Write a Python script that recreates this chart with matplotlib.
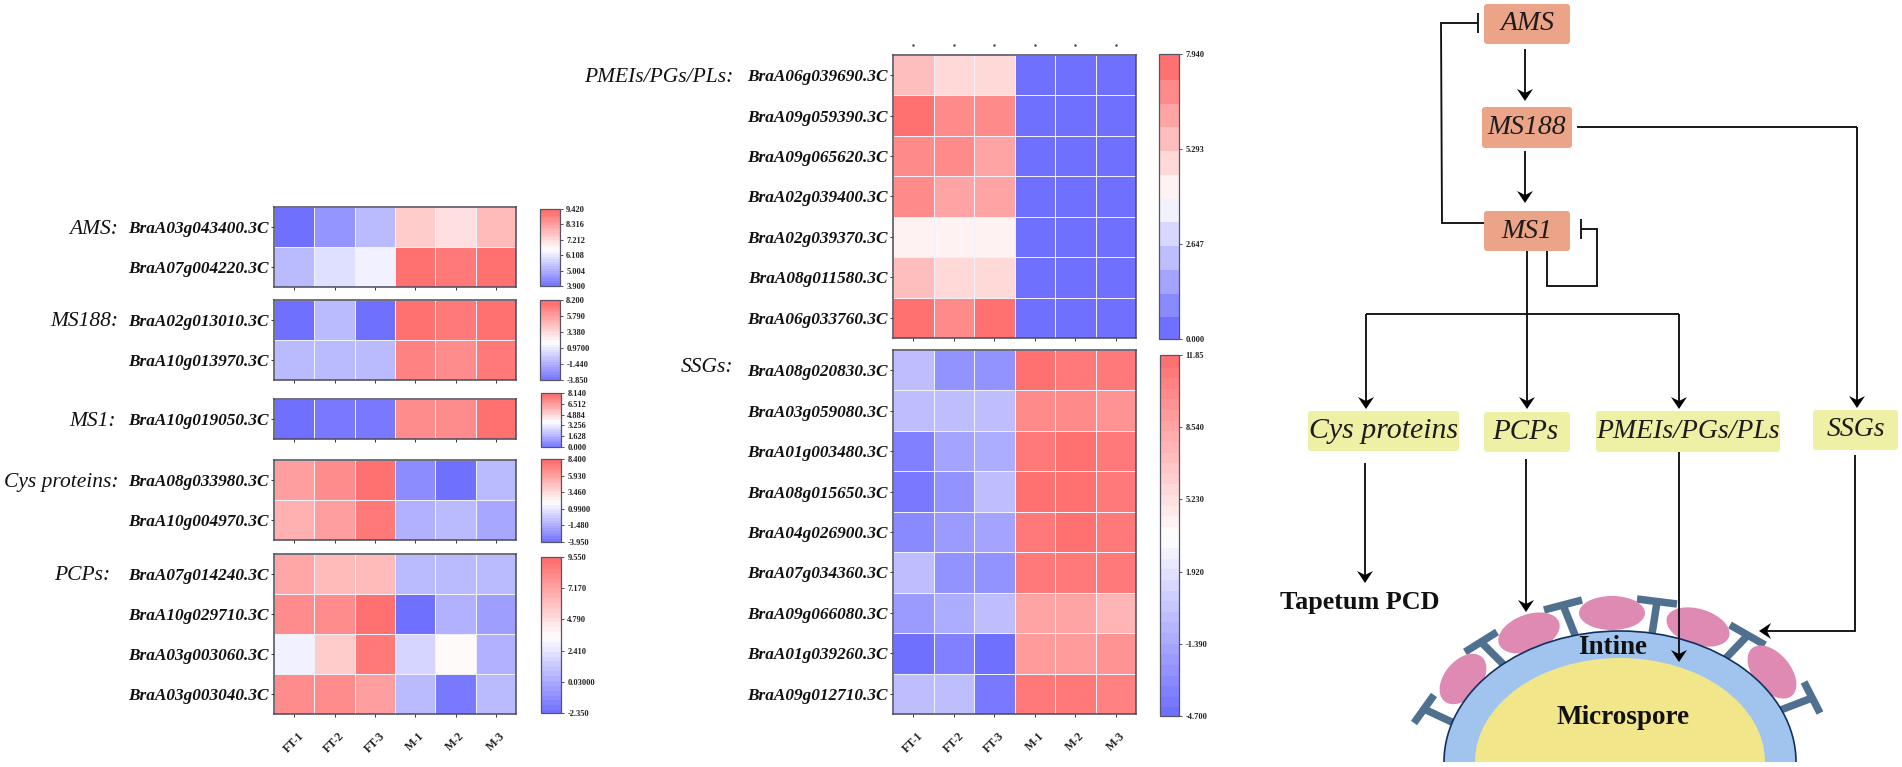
import matplotlib
matplotlib.use("Agg")
import matplotlib.pyplot as plt
from matplotlib.colors import LinearSegmentedColormap
from matplotlib.patches import Ellipse, FancyBboxPatch, Polygon

plt.rcParams["font.family"] = ["Liberation Serif", "DejaVu Serif"]

W, H = 1902, 767

# Sample names on the x axis
samples = ["FT-1", "FT-2", "FT-3", "M-1", "M-2", "M-3"]

# Gene names per panel
ams_genes = ["BraA03g043400.3C", "BraA07g004220.3C"]
ms188_genes = ["BraA02g013010.3C", "BraA10g013970.3C"]
ms1_genes = ["BraA10g019050.3C"]
cys_genes = ["BraA08g033980.3C", "BraA10g004970.3C"]
pcp_genes = ["BraA07g014240.3C", "BraA10g029710.3C", "BraA03g003060.3C", "BraA03g003040.3C"]
pmei_genes = ["BraA06g039690.3C", "BraA09g059390.3C", "BraA09g065620.3C", "BraA02g039400.3C",
              "BraA02g039370.3C", "BraA08g011580.3C", "BraA06g033760.3C"]
ssg_genes = ["BraA08g020830.3C", "BraA03g059080.3C", "BraA01g003480.3C", "BraA08g015650.3C",
             "BraA04g026900.3C", "BraA07g034360.3C", "BraA09g066080.3C", "BraA01g039260.3C",
             "BraA09g012710.3C"]

# Expression values
ams_values = [[4.0, 4.73, 5.39, 7.54, 7.32, 7.98],
              [5.39, 6.0, 6.44, 9.31, 9.14, 9.25]]
ms188_values = [[-3.6, -0.48, -3.6, 7.84, 7.6, 7.96],
                [-0.48, -0.48, -0.48, 7.2, 7.0, 7.72]]
ms1_values = [[0.24, 0.41, 0.41, 7.24, 7.24, 7.98]]
cys_values = [[6.18, 7.16, 8.15, -2.47, -3.58, -0.49],
              [5.44, 6.18, 7.66, -1.23, -0.74, -1.48]]
pcp_values = [[7.17, 6.22, 6.22, 0.86, 0.74, 0.86],
              [8.12, 8.36, 9.31, -1.99, 0.5, -0.33],
              [3.12, 5.5, 9.07, 1.82, 3.6, 0.27],
              [8.36, 8.12, 7.65, 0.63, -1.75, 0.63]]
pmei_values = [[5.72, 4.92, 4.92, 0.16, 0.16, 0.16],
               [7.78, 7.15, 6.99, 0.16, 0.16, 0.16],
               [7.15, 7.0, 6.35, 0.16, 0.16, 0.16],
               [6.67, 6.19, 6.35, 0.16, 0.16, 0.16],
               [4.45, 4.45, 4.37, 0.16, 0.16, 0.16],
               [5.56, 4.92, 4.92, 0.16, 0.16, 0.16],
               [7.7, 6.99, 7.7, 0.16, 0.16, 0.16]]
ssg_values = [[-0.23, -2.38, -2.38, 11.52, 11.35, 11.19],
              [-0.23, -0.23, -0.23, 10.2, 10.03, 9.86],
              [-3.54, -1.56, -1.06, 11.35, 11.52, 11.35],
              [-4.2, -2.71, -0.23, 11.52, 11.52, 11.35],
              [-3.05, -1.89, -1.56, 11.35, 11.52, 11.35],
              [-0.23, -2.38, -2.38, 11.35, 11.19, 11.19],
              [-1.89, -1.06, -0.23, 8.87, 8.54, 7.88],
              [-4.37, -3.38, -4.37, 9.2, 9.2, 9.53],
              [-0.23, -0.23, -4.2, 11.35, 11.19, 10.86]]

# Colour bar tick labels, written as in the picture
ams_ticks = ["3.900", "5.004", "6.108", "7.212", "8.316", "9.420"]
ms188_ticks = ["-3.850", "-1.440", "0.9700", "3.380", "5.790", "8.200"]
ms1_ticks = ["0.000", "1.628", "3.256", "4.884", "6.512", "8.140"]
cys_ticks = ["-3.950", "-1.480", "0.9900", "3.460", "5.930", "8.400"]
pcp_ticks = ["-2.350", "0.03000", "2.410", "4.790", "7.170", "9.550"]
pmei_ticks = ["0.000", "2.647", "5.293", "7.940"]
ssg_ticks = ["-4.700", "-1.390", "1.920", "5.230", "8.540", "11.85"]

fig = plt.figure(figsize=(W / 100, H / 100), dpi=100)

# Full figure axes in pixel coordinates, for labels and the diagram
ov = fig.add_axes([0, 0, 1, 1], zorder=5)
ov.set_xlim(0, W)
ov.set_ylim(H, 0)
ov.axis("off")


def pixel_axes(x0, y0, x1, y1):
    return fig.add_axes([x0 / W, 1 - y1 / H, (x1 - x0) / W, (y1 - y0) / H])


cmap = LinearSegmentedColormap.from_list("blue_red", ["#7070ff", "#ffffff", "#ff7070"])


def heatmap(values, genes, ticks, box, cbox, group, group_x, group_y, bands=32, xlabels=False, top_marks=False):
    ax = pixel_axes(*box)
    vmin, vmax = float(ticks[0]), float(ticks[-1])
    mesh = ax.pcolormesh(values, cmap=cmap.resampled(bands), vmin=vmin, vmax=vmax,
                         edgecolors="#f0f0fa", linewidth=0.45)
    ax.invert_yaxis()
    ax.set_yticks([i + 0.5 for i in range(len(genes))])
    ax.set_yticklabels(genes, fontsize=12.4, fontweight="bold", fontstyle="italic", color="#111111")
    ax.set_xticks([i + 0.5 for i in range(len(samples))])
    if xlabels:
        ax.set_xticklabels(samples, fontsize=8.5, fontweight="bold", rotation=45, color="#222222")
        ax.tick_params(axis="x", pad=9)
    else:
        ax.set_xticklabels([])
    ax.tick_params(length=2.5, width=0.7, color="#333333")
    ax.tick_params(axis="y", pad=1)
    for s in ax.spines.values():
        s.set_linewidth(1.1)
        s.set_color("#4a4a5a")

    cax = pixel_axes(*cbox)
    cb = fig.colorbar(mesh, cax=cax, ticks=[float(t) for t in ticks])
    cb.ax.set_yticklabels(ticks, fontsize=6, fontweight="bold", color="#222222")
    cb.ax.tick_params(length=2.5, width=0.6, pad=2, color="#333333")
    cb.outline.set_linewidth(0.9)
    cb.outline.set_edgecolor("#55556a")
    cb.solids.set_edgecolor("face")

    ov.text(group_x, group_y, group + ":", ha="right", va="center", fontsize=15.5,
            fontstyle="italic", color="#111111")

    if top_marks:
        step = (box[2] - box[0]) / len(samples)
        ov.plot([box[0] + step * (i + 0.5) for i in range(len(samples))], [45] * len(samples),
                ls="none", marker="s", ms=0.8, color="#555555")


# Left column
heatmap(ams_values, ams_genes, ams_ticks, (274, 207, 516, 287), (540, 209, 560, 286), "AMS", 118, 230)
heatmap(ms188_values, ms188_genes, ms188_ticks, (274, 300, 516, 380), (540, 300, 560, 380), "MS188", 118, 322)
heatmap(ms1_values, ms1_genes, ms1_ticks, (274, 399, 516, 439), (541, 393, 561, 447), "MS1", 116, 421)
heatmap(cys_values, cys_genes, cys_ticks, (274, 460, 516, 540), (541, 459, 561, 542), "Cys proteins", 118, 483)
heatmap(pcp_values, pcp_genes, pcp_ticks, (274, 554, 516, 714), (541, 557, 561, 713), "PCPs", 110, 576, xlabels=True)

# Middle column
heatmap(pmei_values, pmei_genes, pmei_ticks, (893, 55, 1136, 338), (1159, 54, 1179, 339), "PMEIs/PGs/PLs", 733, 77,
        bands=12, top_marks=True)
heatmap(ssg_values, ssg_genes, ssg_ticks, (893, 350, 1136, 714), (1160, 355, 1179, 716), "SSGs", 733, 368,
        bands=34, xlabels=True)

# Diagram on the right
LINE = "#111111"
LW = 1.35


def line(xs, ys, lw=LW):
    ov.plot(xs, ys, color=LINE, lw=lw, solid_capstyle="butt", solid_joinstyle="miter", zorder=6)


def head(x, y, dx, dy):
    # stealth arrow head with its tip at x, y, pointing along dx, dy
    px, py = -dy, dx
    ov.add_patch(Polygon([(x, y), (x - dx * 12 + px * 8, y - dy * 12 + py * 8), (x - dx * 8, y - dy * 8),
                          (x - dx * 12 - px * 8, y - dy * 12 - py * 8)], closed=True, fc="black", ec="none", zorder=7))


def arrow_down(x, y0, y1):
    line([x, x], [y0, y1 - 6])
    head(x, y1, 0, 1)


def box(x0, y0, x1, y1, color, label, tx=None, size=20):
    ov.add_patch(FancyBboxPatch((x0, y0), x1 - x0, y1 - y0, boxstyle="round,pad=0,rounding_size=3",
                                fc=color, ec="none", zorder=3))
    ov.text((x0 + x1) / 2 if tx is None else tx, (y0 + y1) / 2, label, ha="center", va="center",
            fontsize=size, fontstyle="italic", color="#1c1c1c", zorder=8)


SALMON = "#eba488"
YELLOW = "#eef0a6"
box(1484, 4, 1570, 44, SALMON, "AMS", 1528)
box(1482, 107, 1572, 148, SALMON, "MS188")
box(1484, 211, 1570, 251, SALMON, "MS1", 1527)
box(1308, 411, 1459, 451, YELLOW, "Cys proteins", size=21.5)
box(1484, 412, 1570, 452, YELLOW, "PCPs", 1525, size=21)
box(1596, 411, 1780, 452, YELLOW, "PMEIs/PGs/PLs")
box(1813, 410, 1898, 450, YELLOW, "SSGs")

arrow_down(1525, 49, 101)
arrow_down(1525, 151, 203)

# MS1 represses AMS and itself
line([1484, 1442, 1441, 1478], [223, 223, 23, 23])
line([1478, 1478], [13, 33])
line([1547, 1547, 1597, 1597, 1581], [251, 286, 286, 229, 229])
line([1581, 1581], [219, 239])

# Branches down to the four gene groups
line([1366, 1679], [314, 314])
arrow_down(1366, 314, 409)
arrow_down(1527, 251, 409)
arrow_down(1679, 314, 409)
line([1577, 1857], [127, 127])
arrow_down(1857, 127, 408)

# Cys proteins lead to tapetum PCD
arrow_down(1365, 463, 583)

# Microspore wall
for bar, stem in [(((1414, 723), (1434, 695)), ((1424, 709), (1456, 724))),
                  (((1465, 652), (1497, 632)), ((1481, 642), (1504, 665))),
                  (((1544, 610), (1582, 600)), ((1563, 605), (1575, 635))),
                  (((1637, 599), (1677, 604)), ((1657, 602), (1652, 634))),
                  (((1730, 625), (1765, 645)), ((1748, 635), (1725, 659))),
                  (((1804, 682), (1820, 713)), ((1812, 698), (1778, 711)))]:
    for (a, b) in (bar, stem):
        ov.plot([a[0], b[0]], [a[1], b[1]], color="#50708f", lw=5.4, solid_capstyle="butt", zorder=2)

for cx, cy, long_, short, ang in [(1463, 679, 58, 37, -50), (1529, 633, 64, 37, -20), (1612, 613, 66, 34, 0),
                                  (1698, 627, 65, 36, 17), (1772, 672, 62, 37, 50)]:
    ov.add_patch(Ellipse((cx, cy), long_, short, angle=ang, fc="#de8ab2", ec="none", zorder=2.5))

ov.add_patch(Ellipse((1620, 762), 352, 262, fc="#a0c4ee", ec="#12305f", lw=1.2, zorder=3))
ov.add_patch(Ellipse((1620, 762), 290, 208, fc="#f2e68a", ec="none", zorder=3.2))
ov.add_patch(plt.Rectangle((1440, 762), 360, 10, fc="white", ec="none", zorder=3.4))

ov.text(1613, 647, "Intine", ha="center", va="center", fontsize=19.5, fontweight="bold", color="#111111", zorder=8)
ov.text(1623, 717, "Microspore", ha="center", va="center", fontsize=19.5, fontweight="bold", color="#111111", zorder=8)
ov.text(1360, 603, "Tapetum PCD", ha="center", va="center", fontsize=18.8, fontweight="bold", color="#111111", zorder=8)

# PCPs, PMEIs and SSGs act on the wall
arrow_down(1526, 459, 612)
arrow_down(1679, 452, 662)
line([1855, 1855, 1765], [455, 631, 631])
head(1759, 631, -1, 0)

fig.savefig("out.png", dpi=100, facecolor="white")
